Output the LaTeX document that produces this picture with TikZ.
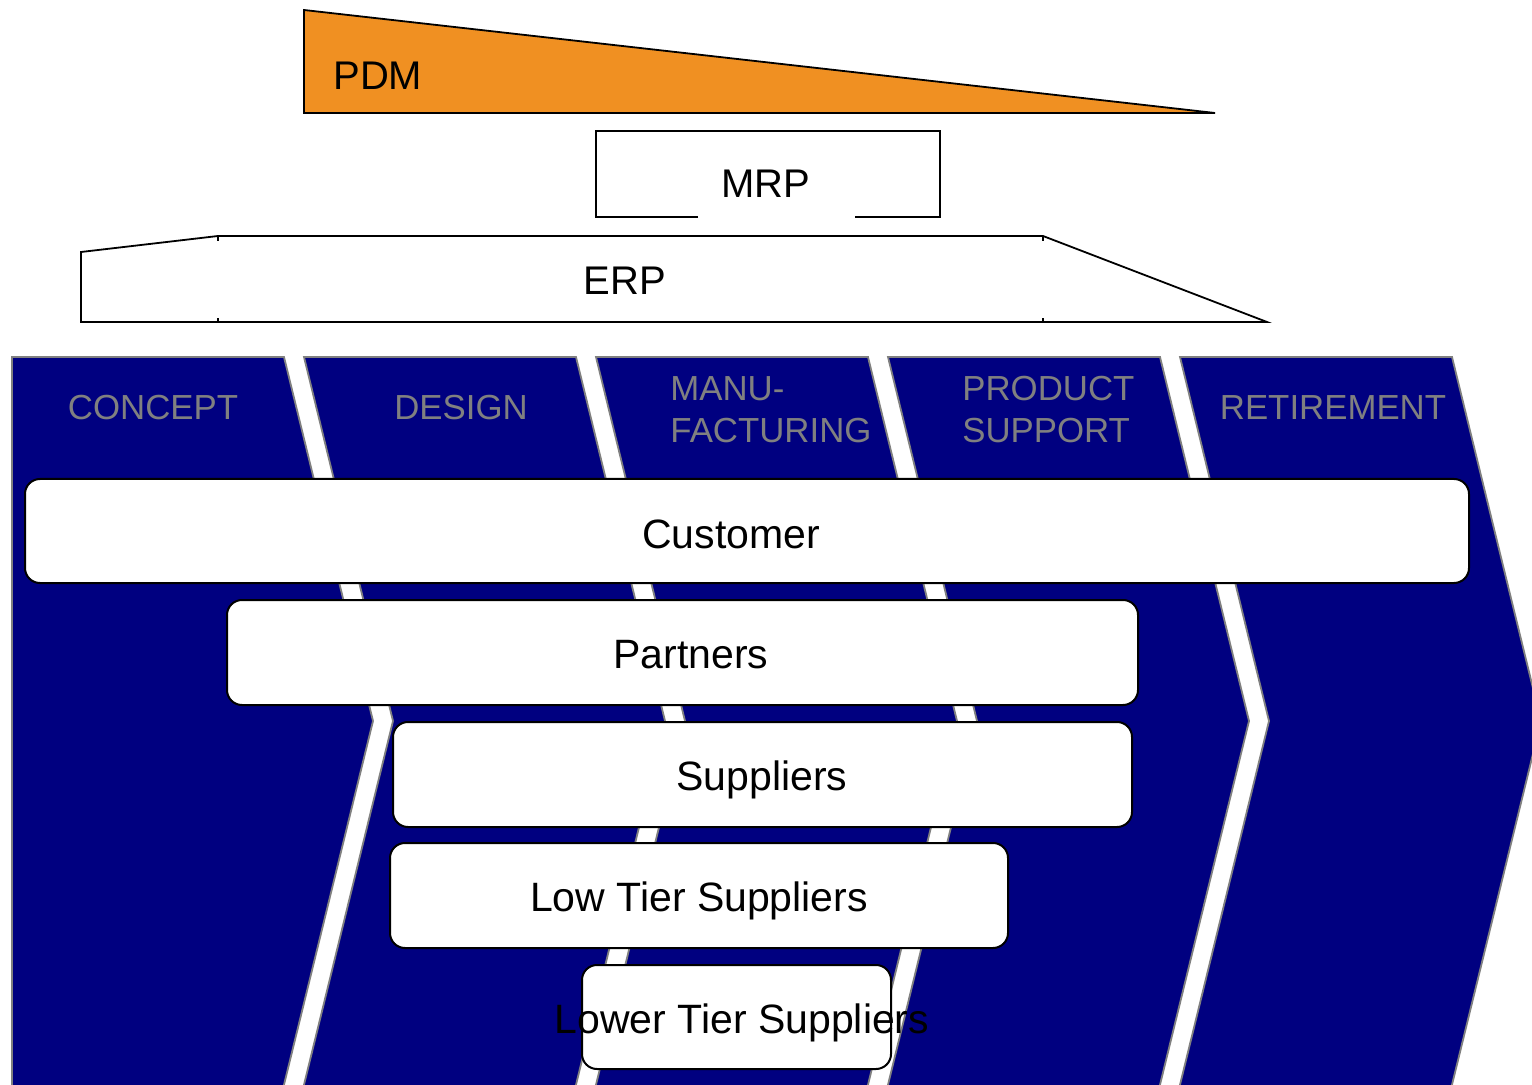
\documentclass[tikz,border=0pt]{standalone}
\usepackage{fontspec}
\setmainfont{Liberation Sans}
\definecolor{navy}{RGB}{0,0,128}
\definecolor{chevgrey}{RGB}{128,128,128}
\definecolor{pdmorange}{RGB}{240,144,34}
\begin{document}
\begin{tikzpicture}[x=0.5pt,y=-0.5pt,
  chev/.style={fill=navy, draw=chevgrey, line width=0.9pt, line join=miter},
  phase/.style={text=chevgrey, font=\fontsize{17.4pt}{20.5pt}\selectfont, inner sep=0pt},
  tier/.style={draw=black, fill=white, line width=1pt, rounded corners=7.5pt, inner sep=0pt},
  tiertext/.style={font=\fontsize{20.5pt}{24pt}\selectfont, inner sep=0pt, anchor=base},
  sys/.style={draw=black, line width=0.9pt},
  systext/.style={font=\fontsize{20pt}{24pt}\selectfont, inner sep=0pt, anchor=base}]
\useasboundingbox (0,0) rectangle (1532,1085);
\clip (0,0) rectangle (1532,1085);

% phase chevrons
\draw[chev] (12,357) -- (284,357) -- (373,721) -- (281,1097) -- (12,1097) -- cycle;
\foreach \L in {304,596,888,1180}{
  \draw[chev] (\L,357) -- ({\L+272},357) -- ({\L+361},721) -- ({\L+269},1097)
    -- ({\L-3},1097) -- ({\L+89},721) -- cycle;
}

\node[phase, anchor=base] (concept) at (153,420) {CONCEPT};
\node[phase, anchor=base] (design) at (461,420) {DESIGN};
\node[phase, anchor=base west] (manu) at (670,401) {MANU-};
\node[phase, anchor=base west] (facturing) at (670,443) {FACTURING};
\node[phase, anchor=base west] (product) at (962,401) {PRODUCT};
\node[phase, anchor=base west] (support) at (962,443) {SUPPORT};
\node[phase, anchor=base] (retirement) at (1333,420) {RETIREMENT};

% tier boxes
\node[tier, minimum width=722pt, minimum height=52pt] (customer) at (747,531) {};
\node[tier, minimum width=455.5pt, minimum height=52.5pt] (partners) at (682.5,652.5) {};
\node[tier, minimum width=369.5pt, minimum height=52.5pt] (suppliers) at (762.5,774.5) {};
\node[tier, minimum width=309pt, minimum height=52.5pt] (lowtier) at (699,895.5) {};
\node[tier, minimum width=154.5pt, minimum height=52pt] (lowertier) at (736.5,1017) {};

\node[tiertext] (customer-t) at (731,548) {Customer};
\node[tiertext] (partners-t) at (691,668) {Partners};
\node[tiertext] (suppliers-t) at (762,790) {Suppliers};
\node[tiertext] (lowtier-t) at (699,911) {Low Tier Suppliers};
\node[tiertext] (lowertier-t) at (742,1033) {Lower Tier Suppliers};

% systems
\draw[sys, fill=pdmorange] (304,10) -- (1215,113) -- (304,113) -- cycle;
\node[systext, anchor=base west] (pdm) at (333,90) {PDM};

\draw[sys] (698,217) -- (596,217) -- (596,131) -- (940,131) -- (940,217) -- (855,217);
\node[systext] (mrp) at (766,198) {MRP};

\draw[sys] (81,252) -- (218,236) -- (1043,236) -- (1267,322) -- (81,322) -- cycle;
\draw[sys] (218,236) -- (218,241) (218,322) -- (218,318)
           (1043,236) -- (1043,241) (1043,322) -- (1043,318);
\node[systext] (erp) at (625,295) {ERP};
\end{tikzpicture}
\end{document}
